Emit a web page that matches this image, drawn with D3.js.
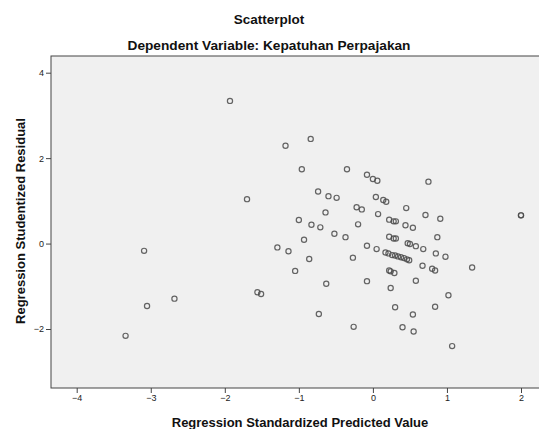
<!DOCTYPE html>
<html><head><meta charset="utf-8">
<script src="https://cdn.jsdelivr.net/npm/d3@7"></script>
<style>
html,body{margin:0;padding:0;background:#fff;}
svg{display:block;font-family:"Liberation Sans",Arial,sans-serif;}
</style></head>
<body>
<svg id="chart" width="539" height="429"></svg>
<script>
const title = "Scatterplot";
const subtitle = "Dependent Variable: Kepatuhan Perpajakan";
const xLabel = "Regression Standardized Predicted Value";
const yLabel = "Regression Studentized Residual";
const xTicks = [-4, -3, -2, -1, 0, 1, 2];
const yTicks = [-2, 0, 2, 4];

// Regression Standardized Predicted Value
const predicted = [
  -3.34, -3.09, -3.05, -2.68, -1.93, -1.70, -1.56, -1.51, -1.29, -1.18,
  -1.14, -1.05, -1.00, -0.96, -0.93, -0.84, -0.86, -0.83, -0.74, -0.73,
  -0.71, -0.64, -0.63, -0.60, -0.52, -0.49, -0.37, -0.35, -0.27, -0.26,
  -0.22, -0.20, -0.15, -0.08, -0.08, -0.08, 0.00, 0.04, 0.05, 0.06,
  0.07, 0.14, 0.18,
  0.17, 0.21, 0.26, 0.30, 0.34, 0.38, 0.42, 0.46, 0.49,
  0.22, 0.28, 0.31, 0.22, 0.28, 0.31, 0.22, 0.24, 0.29, 0.24,
  0.30, 0.40, 0.45, 0.44, 0.47, 0.50, 0.54, 0.54, 0.55, 0.58,
  0.58, 0.68, 0.67, 0.71, 0.75, 0.80, 0.84, 0.85, 0.84, 0.87,
  0.91, 0.98, 1.02, 1.07, 1.34, 2.00, 2.00
];
// Regression Studentized Residual
const residual = [
  -2.16, -0.17, -1.46, -1.29, 3.34, 1.04, -1.14, -1.18, -0.09, 2.29,
  -0.18, -0.64, 0.55, 1.74, 0.09, 2.45, -0.36, 0.44, 1.22, -1.65,
  0.38, 0.73, -0.94, 1.11, 0.23, 1.07, 0.15, 1.74, -0.33, -1.95,
  0.85, 0.45, 0.80, 1.61, -0.05, -0.88, 1.51, 1.09, -0.13, 1.47,
  0.69, 1.02, 0.98,
  -0.21, -0.23, -0.27, -0.28, -0.30, -0.32, -0.34, -0.37, -0.39,
  0.56, 0.52, 0.52, 0.16, 0.12, 0.12, -0.63, -0.65, -0.69, -1.04,
  -1.49, -1.96, 0.83, 0.43, 0.01, -0.01, 0.37, -1.66, -2.06, -0.06,
  -0.87, -0.13, -0.52, 0.67, 1.45, -0.59, -0.63, -0.23, -1.48, 0.15,
  0.58, -0.31, -1.21, -2.40, -0.56, 0.66, 0.66
];

const svg = d3.select("#chart");
const frame = {left: 51, top: 56, right: 560, bottom: 388};

const x = d3.scaleLinear().domain([-4, 2]).range([76.7, 521]);
const y = d3.scaleLinear().domain([-2, 4]).range([329, 72.7]);

svg.append("rect")
  .attr("x", frame.left).attr("y", frame.top)
  .attr("width", frame.right - frame.left).attr("height", frame.bottom - frame.top)
  .attr("fill", "#f0f0f0").attr("stroke", "#444").attr("stroke-width", 1);

const points = predicted.map((p, i) => ({p, r: residual[i]}));
svg.append("g").selectAll("circle").data(points).join("circle")
  .attr("cx", d => x(d.p)).attr("cy", d => y(d.r))
  .attr("r", 2.6)
  .attr("fill", "none")
  .attr("stroke", "#4a4a4a")
  .attr("stroke-opacity", 0.85)
  .attr("stroke-width", 1.2);

const xAxis = svg.append("g").attr("transform", `translate(0,${frame.bottom})`)
  .call(d3.axisBottom(x).tickValues(xTicks).tickSize(5).tickPadding(2).tickFormat(d3.format("d")));
xAxis.select(".domain").remove();
xAxis.selectAll("line").attr("stroke", "#444");
xAxis.selectAll("text").attr("font-size", 9).attr("fill", "#222")
  .attr("font-family", "'Liberation Sans',Arial,sans-serif");

const yAxis = svg.append("g").attr("transform", `translate(${frame.left},0)`)
  .call(d3.axisLeft(y).tickValues(yTicks).tickSize(5).tickPadding(2).tickFormat(d3.format("d")));
yAxis.select(".domain").remove();
yAxis.selectAll("line").attr("stroke", "#444");
yAxis.selectAll("text").attr("font-size", 9).attr("fill", "#222")
  .attr("font-family", "'Liberation Sans',Arial,sans-serif");

svg.append("text").attr("x", 269).attr("y", 24).attr("text-anchor", "middle")
  .attr("font-size", 13.5).attr("font-weight", "bold").attr("fill", "#111").text(title);
svg.append("text").attr("x", 269).attr("y", 50).attr("text-anchor", "middle")
  .attr("font-size", 13.7).attr("font-weight", "bold").attr("fill", "#111").text(subtitle);
svg.append("text").attr("x", 300).attr("y", 426.5).attr("text-anchor", "middle")
  .attr("font-size", 13).attr("font-weight", "bold").attr("fill", "#111").text(xLabel);
svg.append("text").attr("transform", "translate(25,221) rotate(-90)").attr("text-anchor", "middle")
  .attr("font-size", 13).attr("font-weight", "bold").attr("fill", "#111").text(yLabel);
</script>
</body></html>
